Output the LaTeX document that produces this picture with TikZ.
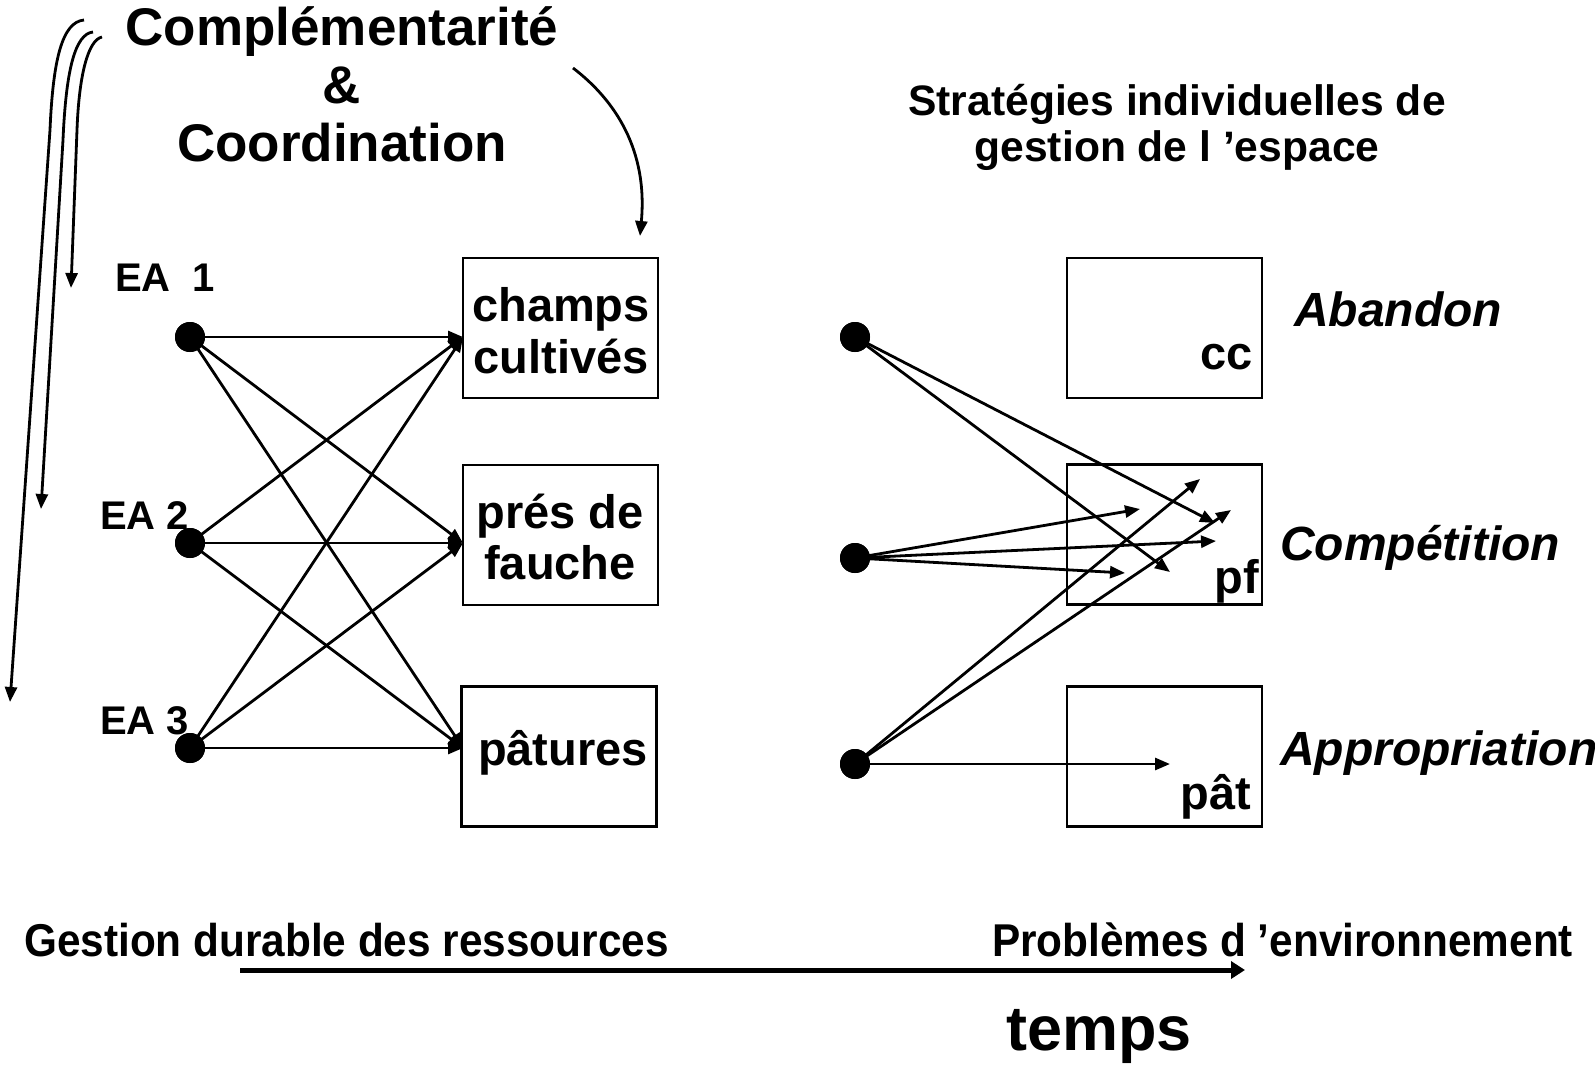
\documentclass[tikz,border=0pt]{standalone}
\usepackage{fontspec}
\setmainfont{Liberation Sans}
\usetikzlibrary{arrows.meta}
\tikzset{
  conn/.style={line width=2.8pt, -{Triangle[length=15pt,width=12pt]}},
  curv/.style={line width=2.8pt, -{Triangle[length=15pt,width=12pt]}},
  dot/.style={circle, fill=black, inner sep=0pt, minimum size=30pt},
  box/.style={draw, line width=2.8pt, inner sep=0pt, minimum width=195pt, minimum height=140pt},
  ttl/.style={inner sep=0pt, anchor=base, font=\bfseries\fontsize{53}{58}\selectfont},
  sub/.style={inner sep=0pt, anchor=base, font=\bfseries\fontsize{42.6}{46}\selectfont},
  ea/.style={inner sep=0pt, anchor=base west, font=\bfseries\fontsize{40}{44}\selectfont},
  lbl/.style={inner sep=0pt, anchor=base, font=\bfseries\fontsize{47}{52}\selectfont},
  rlbl/.style={inner sep=0pt, anchor=base east, font=\bfseries\fontsize{47}{52}\selectfont},
  itl/.style={inner sep=0pt, anchor=base west, font=\bfseries\itshape\fontsize{48}{52}\selectfont},
  bot/.style={inner sep=0pt, anchor=base west, font=\bfseries\fontsize{46}{50}\selectfont},
}
\begin{document}
\begin{tikzpicture}[x=1pt,y=-1pt]
\useasboundingbox (0,0) rectangle (1595,1066);

% titles
\node[ttl] (t1) at (342,45) {Complémentarité};
\node[ttl] (t2) at (342,103) {\&};
\node[ttl] (t3) at (342,161) {Coordination};
\node[sub] (s1) at (1177,115) {Stratégies individuelles de};
\node[sub] (s2) at (1177,161) {gestion de l ’espace};

% curved arrows
\coordinate (ca0) at (84,20);  \coordinate (ca1) at (10,702);
\coordinate (cb0) at (93,32);  \coordinate (cb1) at (41,509);
\coordinate (cc0) at (102,37); \coordinate (cc1) at (71,288);
\draw[curv] (ca0) .. controls (62,22) and (53,60) .. (50,130) -- (ca1);
\draw[curv] (cb0) .. controls (75,34) and (66,70) .. (63,140) -- (cb1);
\draw[curv] (cc0) .. controls (88,40) and (79,75) .. (77,130) -- (cc1);
\coordinate (cd0) at (573,68); \coordinate (cd1) at (640,236);
\draw[curv] (cd0) .. controls (615,100) and (648,150) .. (cd1);

% left side
\node[ea] (ea1) at (115,291) {EA\ \ 1};
\node[ea] (ea2) at (100,529) {EA 2};
\node[ea] (ea3) at (100,734) {EA 3};

\node[box] (b1) at (560.5,328) {};
\node[box] (b2) at (560.5,535) {};
\node[box] (b3) at (559,756.5) {};
\node[lbl] (b1a) at (561,321) {champs};
\node[lbl] (b1b) at (561,373) {cultivés};
\node[lbl] (b2a) at (560,528) {prés de};
\node[lbl] (b2b) at (560,579) {fauche};
\node[lbl] (b3a) at (563,765) {pâtures};

\node[dot] (l1) at (190,337) {};
\node[dot] (l2) at (190,543) {};
\node[dot] (l3) at (190,748) {};
\coordinate (t1p) at (463,337);
\coordinate (t2p) at (463,543);
\coordinate (t3p) at (463,748);
\foreach \s in {l1,l2,l3}{
  \foreach \t in {t1p,t2p,t3p}{
    \draw[conn] (\s.center) -- (\t);
  }
}
\foreach \s in {l1,l2,l3}{ \node[dot] at (\s) {}; }

% right side
\node[box] (rb1) at (1164.5,328) {};
\node[box] (rb2) at (1164.5,534.5) {};
\node[box] (rb3) at (1164.5,756.5) {};
\node[rlbl] (cc) at (1253,369) {cc};
\node[rlbl] (pf) at (1259,593) {pf};
\node[rlbl] (pat) at (1251,809) {pât};
\node[itl] (ab) at (1294,326) {Abandon};
\node[itl] (co) at (1280,560) {Compétition};
\node[itl] (ap) at (1280,765) {Appropriation};

\node[dot] (r1) at (855,337) {};
\node[dot] (r2) at (855,558) {};
\node[dot] (r3) at (855,764) {};
\coordinate (q1) at (1215,523);
\coordinate (q2) at (1170,572);
\coordinate (q3) at (1140,509);
\coordinate (q4) at (1216,541);
\coordinate (q5) at (1125,573);
\coordinate (q6) at (1200,479);
\coordinate (q7) at (1231,510);
\coordinate (q8) at (1170,764);
\draw[conn] (r1.center) -- (q1);
\draw[conn] (r1.center) -- (q2);
\draw[conn] (r2.center) -- (q3);
\draw[conn] (r2.center) -- (q4);
\draw[conn] (r2.center) -- (q5);
\draw[conn] (r3.center) -- (q6);
\draw[conn] (r3.center) -- (q7);
\draw[conn] (r3.center) -- (q8);
\foreach \s in {r1,r2,r3}{ \node[dot] at (\s) {}; }

% bottom
\node[bot] (g) at (24,956) {\scalebox{0.92}[1]{Gestion durable des ressources}};
\node[bot] (p) at (992,956) {\scalebox{0.92}[1]{Problèmes d ’environnement}};
\coordinate (ta) at (240,970);
\coordinate (tb) at (1245,970);
\draw[line width=5pt, -{Triangle[length=14pt,width=17pt]}] (ta) -- (tb);
\node[inner sep=0pt, anchor=base west, font=\bfseries\fontsize{63}{68}\selectfont] (tm) at (1006,1050) {temps};
\end{tikzpicture}
\end{document}
